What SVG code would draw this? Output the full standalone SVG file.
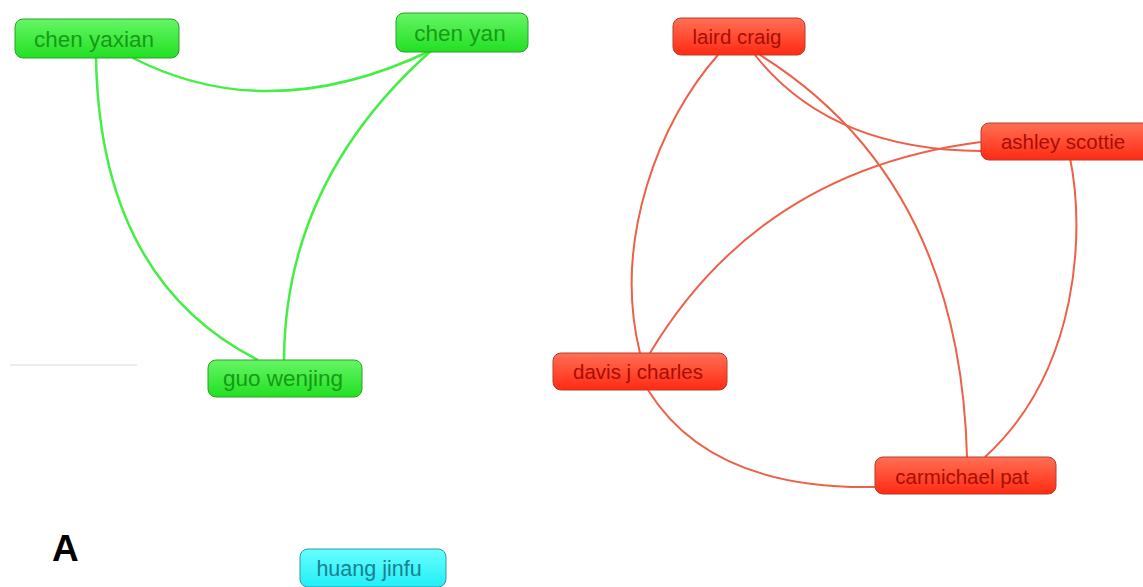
<svg xmlns="http://www.w3.org/2000/svg" width="1143" height="587" viewBox="0 0 1143 587">
<defs>
<linearGradient id="gG" x1="0" y1="0" x2="0" y2="1"><stop offset="0" stop-color="#66f566"/><stop offset="1" stop-color="#22e022"/></linearGradient>
<linearGradient id="gR" x1="0" y1="0" x2="0" y2="1"><stop offset="0" stop-color="#ff7055"/><stop offset="1" stop-color="#ff2a12"/></linearGradient>
<linearGradient id="gC" x1="0" y1="0" x2="0" y2="1"><stop offset="0" stop-color="#66ffff"/><stop offset="1" stop-color="#22eef6"/></linearGradient>
</defs>
<style>
.g rect{fill:url(#gG);stroke:#2aa02a;stroke-width:1}
.g text{fill:#169a16;font-family:"Liberation Sans",Arial,sans-serif;font-size:22.5px;text-anchor:middle}
.r rect{fill:url(#gR);stroke:#b83a2a;stroke-width:1}
.r text{fill:#a80d05;font-family:"Liberation Sans",Arial,sans-serif;font-size:20.5px;text-anchor:middle}
.c rect{fill:url(#gC);stroke:#2a9ab0;stroke-width:1}
.c text{fill:#1a8090;font-family:"Liberation Sans",Arial,sans-serif;font-size:21.5px;text-anchor:middle}
.eg{fill:none;stroke:#44ee44;stroke-width:2.5}
.er{fill:none;stroke:#ee6048;stroke-width:2}
</style>
<rect width="1143" height="587" fill="#ffffff"/>
<line x1="10" y1="365" x2="137" y2="365" stroke="#e6e6e6" stroke-width="1.5"/>
<g id="connectors">
<path class="eg" d="M133,58 Q270,128 432,50"/>
<path class="eg" d="M96,58 Q100,280 258,360"/>
<path class="eg" d="M432,50 Q285,180 284,360"/>
<path class="er" d="M718,55 C660,120 612,240 640,353"/>
<path class="er" d="M755,55 Q830,150 981,151"/>
<path class="er" d="M760,55 Q960,180 967,457"/>
<path class="er" d="M981,142 Q760,170 650,353"/>
<path class="er" d="M1070,158 C1085,230 1080,370 985,457"/>
<path class="er" d="M648,390 Q710,490 875,487"/>
</g>
<g id="chen_yaxian" class="g"><rect x="15" y="19" width="164" height="39" rx="8"/><text x="94" y="47">chen yaxian</text></g>
<g id="chen_yan" class="g"><rect x="396" y="13" width="132" height="39" rx="8"/><text x="460" y="41">chen yan</text></g>
<g id="guo_wenjing" class="g"><rect x="208" y="360" width="154" height="37" rx="8"/><text x="283" y="386">guo wenjing</text></g>
<g id="huang_jinfu" class="c"><rect x="300" y="549" width="146" height="38" rx="8"/><text x="369" y="576">huang jinfu</text></g>
<g id="laird_craig" class="r"><rect x="673" y="18" width="132" height="37" rx="8"/><text x="737" y="44">laird craig</text></g>
<g id="ashley_scottie" class="r"><rect x="981" y="123" width="170" height="37" rx="8"/><text x="1063" y="149">ashley scottie</text></g>
<g id="davis_j_charles" class="r"><rect x="553" y="353" width="174" height="37" rx="8"/><text x="638" y="379">davis j charles</text></g>
<g id="carmichael_pat" class="r"><rect x="875" y="457" width="181" height="37" rx="8"/><text x="962" y="484">carmichael pat</text></g>
<text x="52" y="561" font-family="Liberation Sans,Arial,sans-serif" font-size="37" font-weight="bold" fill="#000">A</text>
</svg>
